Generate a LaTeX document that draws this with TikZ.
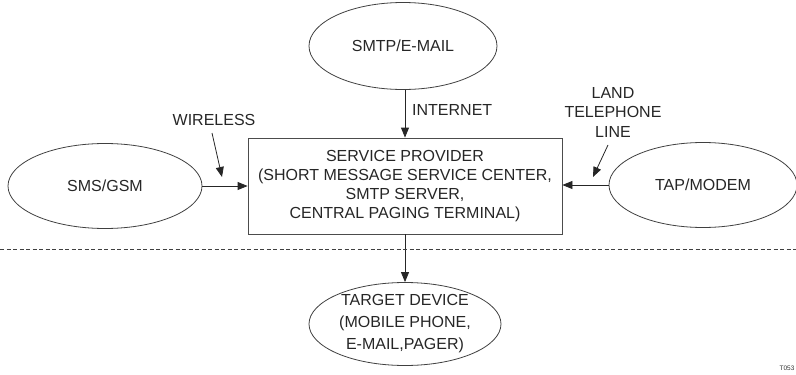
\documentclass[tikz,border=0pt]{standalone}
\usepackage{fontspec}
\setmainfont{Liberation Sans}
\usetikzlibrary{arrows.meta,shapes.geometric}
\begin{document}
\begin{tikzpicture}[x=1pt,y=-1pt,
  lbl/.style={font=\fontsize{16}{19}\selectfont, text=black!85, inner sep=0pt, align=center},
  ell/.style={ellipse, draw=black!75, line width=0.8pt, inner sep=0pt, font=\fontsize{16}{19}\selectfont, text=black!85, align=center},
  boxn/.style={rectangle, draw=black!70, line width=0.8pt, inner sep=0pt, font=\fontsize{16}{19}\selectfont, text=black!85, align=center},
  arr/.style={draw=black!85, line width=0.8pt, -{Triangle[length=10pt,width=8pt]}},
  sep/.style={draw=black!75, line width=0.7pt, dash pattern=on 4pt off 2.5pt}]
\useasboundingbox (0,0) rectangle (796,375);
\node[ell, minimum width=188pt, minimum height=87pt] (smtp) at (403,46) {SMTP/E-MAIL};
\node[boxn, minimum width=314pt, minimum height=96pt] (box) at (405,186)
  {SERVICE PROVIDER\\(SHORT MESSAGE SERVICE CENTER,\\SMTP SERVER,\\CENTRAL PAGING TERMINAL)};
\node[ell, minimum width=194pt, minimum height=85pt] (sms) at (105,186) {SMS/GSM};
\node[ell, minimum width=188pt, minimum height=85pt] (tap) at (703,185) {TAP/MODEM};
\node[ell, minimum width=192pt, minimum height=83pt, font=\fontsize{16}{22}\selectfont] (target) at (405,324)
  {TARGET DEVICE\\(MOBILE PHONE,\\E-MAIL,PAGER)};
\node[lbl, anchor=west] (internet) at (412,110) {INTERNET};
\node[lbl] (wireless) at (214,120) {WIRELESS};
\node[lbl, font=\fontsize{16}{19.5}\selectfont] (land) at (613,112) {LAND\\TELEPHONE\\LINE};
\node[inner sep=0pt, font=\fontsize{6.5}{7}\selectfont, text=black!80] (code) at (787,368) {T053};
\coordinate (w1) at (212,133);
\coordinate (w2) at (222,177);
\coordinate (l1) at (608,145);
\coordinate (l2) at (593,177);
\coordinate (d1) at (0,249);
\coordinate (d2) at (796,249);
\draw[arr] (smtp.south -| box.north) -- (box.north);
\draw[arr] (sms.east) -- (sms.east -| box.west);
\draw[arr] (tap.west) -- (tap.west -| box.east);
\draw[arr] (box.south) -- (target.north);
\draw[arr] (w1) -- (w2);
\draw[arr] (l1) -- (l2);
\draw[sep] (d1) -- (d2);
\end{tikzpicture}
\end{document}
